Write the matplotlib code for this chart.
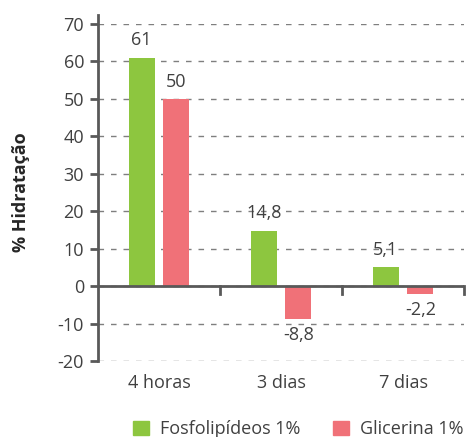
import matplotlib
matplotlib.use("Agg")
import matplotlib.pyplot as plt
import numpy as np
from matplotlib.patches import Patch

categories = ["4 horas", "3 dias", "7 dias"]
fosfo = [61, 14.8, 5.1]
glicerina = [50, -8.8, -2.2]
fosfo_labels = ["61", "14,8", "5,1"]
glic_labels = ["50", "-8,8", "-2,2"]
series_names = ["Fosfolipídeos 1%", "Glicerina 1%"]
yticks = [-20, -10, 0, 10, 20, 30, 40, 50, 60, 70]

plt.rcParams['font.family'] = ['Open Sans', 'DejaVu Sans']
green = "#8DC63F"
red = "#F07178"
txt = "#404040"
axc = "#595959"
fs = 13

fig = plt.figure(figsize=(4.69, 4.37), dpi=100)
ax = fig.add_axes([98/469, 1-361/437, (464-98)/469, (361-24)/437])

x = np.arange(len(categories))
w = 0.213
off = 0.142
b1 = ax.bar(x - off, fosfo, w, color=green, zorder=3)
b2 = ax.bar(x + off, glicerina, w, color=red, zorder=3)

def label(rect, lab, v):
    cx = rect.get_x() + rect.get_width()/2
    if v >= 0:
        ax.annotate(lab, (cx, v), xytext=(0, 6), textcoords="offset points",
                    ha="center", va="bottom", fontsize=fs, color=txt)
    else:
        ax.annotate(lab, (cx, v), xytext=(0, -5), textcoords="offset points",
                    ha="center", va="top", fontsize=fs, color=txt)

for rect, lab, v in zip(b1, fosfo_labels, fosfo):
    label(rect, lab, v)
for rect, lab, v in zip(b2, glic_labels, glicerina):
    label(rect, lab, v)

ax.set_xlim(-0.5, 2.5)
ax.set_ylim(-20, 70)
ax.set_yticks(yticks)
ax.set_yticklabels([str(t) for t in yticks], fontsize=fs, color=txt)
ax.yaxis.grid(True, linestyle=(0, (4, 5)), color="#7f7f7f", linewidth=1, zorder=0)
ax.set_axisbelow(True)

ax.set_xticks(x)
ax.set_xticklabels(categories, fontsize=fs, color=txt)
ax.tick_params(axis='x', length=0, pad=9)
for xb in [0.5, 1.5, 2.5]:
    ax.plot([xb, xb], [0, -2.2], color=axc, lw=2, zorder=4, clip_on=False)

ax.tick_params(axis='y', length=6, width=2, color=axc, pad=4)
for s in ["top", "right", "bottom"]:
    ax.spines[s].set_visible(False)
ax.spines["left"].set_color(axc)
ax.spines["left"].set_linewidth(2)
ax.spines["left"].set_bounds(-20, 72.5)
ax.axhline(0, color=axc, lw=2, zorder=4)

ax.set_ylabel("% Hidratação", fontsize=fs, fontweight="bold", color="#262626", labelpad=20)

handles = [Patch(color=green), Patch(color=red)]
fig.legend(handles, series_names, loc="lower center", bbox_to_anchor=(0.635, -0.04),
           ncol=2, frameon=False, fontsize=fs, handlelength=0.9, handleheight=0.9,
           columnspacing=1.8, handletextpad=0.6, labelcolor=txt)

fig.savefig("out.png", dpi=100)
